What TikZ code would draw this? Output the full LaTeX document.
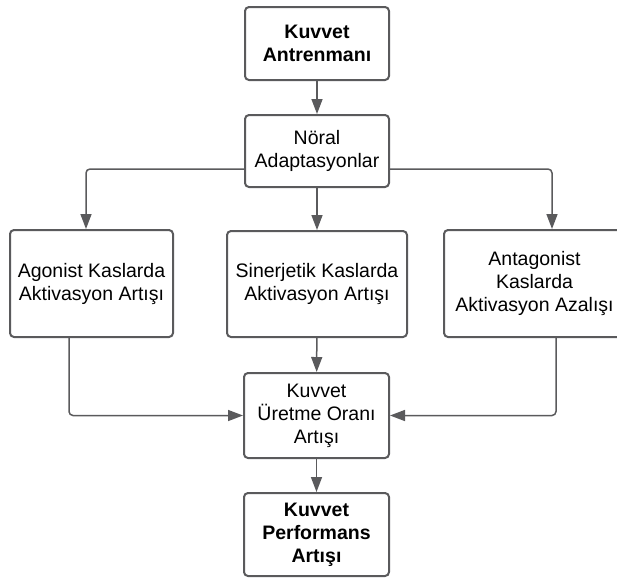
\documentclass[tikz,border=0pt]{standalone}
\usepackage{fontspec}
\setmainfont{Liberation Sans}
\usepackage{tikz}
\usetikzlibrary{arrows.meta}

\definecolor{linegray}{HTML}{5A5A5C}

\begin{document}
\begin{tikzpicture}[x=1pt, y=-1pt, >={Triangle[length=15pt,width=11pt]},
    every node/.style={font=\fontsize{19.5}{23}\selectfont, align=center, inner sep=0pt},
    flowbox/.style={draw=linegray, line width=2pt, rounded corners=4pt, fill=white},
    flowarrow/.style={->, draw=linegray, line width=1.5pt, rounded corners=4pt}]
    \useasboundingbox (0,0) rectangle (617,579);

    \node[flowbox, minimum width=144pt, minimum height=73pt] (training) at (317,43.5)
        {\textbf{Kuvvet}\\\textbf{Antrenmanı}};
    \node[flowbox, minimum width=144pt, minimum height=72pt] (neural) at (317,151)
        {Nöral\\Adaptasyonlar};

    \node[flowbox, minimum width=163pt, minimum height=107pt] (agonist) at (91.5,283.5)
        {Agonist Kaslarda\\Aktivasyon Artışı};
    \node[flowbox, minimum width=180pt, minimum height=106pt] (synergist) at (317,284)
        {Sinerjetik Kaslarda\\Aktivasyon Artışı};
    \node[flowbox, minimum width=181pt, minimum height=107pt] (antagonist) at (534.5,283.5)
        {Antagonist\\Kaslarda\\Aktivasyon Azalışı};

    \node[flowbox, minimum width=145pt, minimum height=85pt] (rate) at (316.5,415.5)
        {Kuvvet\\Üretme Oranı\\Artışı};
    \node[flowbox, minimum width=145pt, minimum height=83pt] (performance) at (316.5,534.5)
        {\textbf{Kuvvet}\\\textbf{Performans}\\\textbf{Artışı}};

    % top part
    \draw[flowarrow] (training) -- (neural);
    \draw[flowarrow] ([yshift=-18pt]neural.west) -| ([xshift=-5.5pt]agonist.north);
    \draw[flowarrow] (neural) -- (synergist);
    \draw[flowarrow] ([yshift=-18pt]neural.east) -| ([xshift=17.5pt]antagonist.north);

    % bottom part
    \draw[flowarrow] ([xshift=-22.5pt]agonist.south) |- (rate.west);
    \draw[flowarrow] (synergist) -- (rate);
    \draw[flowarrow] ([xshift=21.5pt]antagonist.south) |- (rate.east);
    \draw[flowarrow] (rate) -- (performance);
\end{tikzpicture}
\end{document}
